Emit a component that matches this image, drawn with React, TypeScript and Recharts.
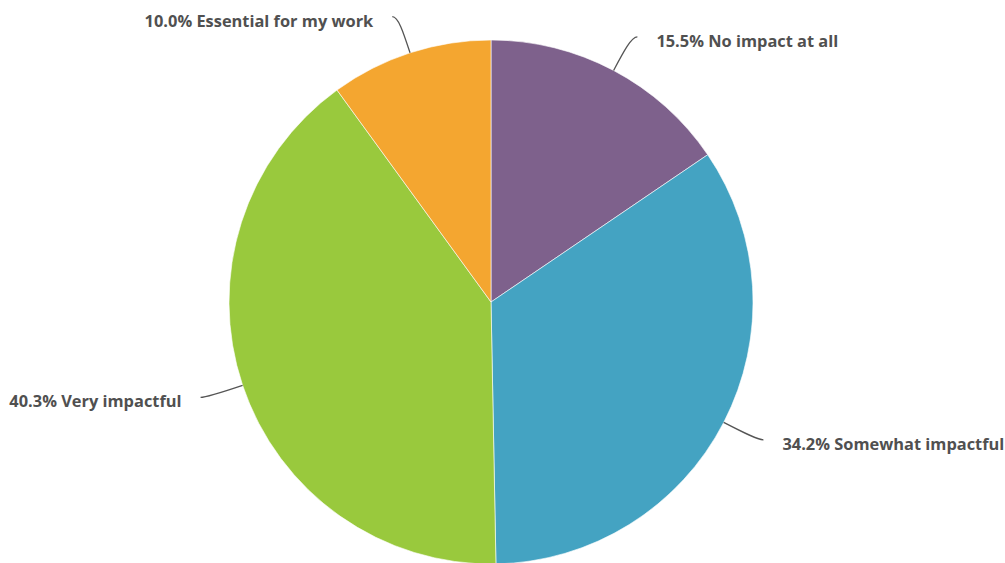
import React from "react";
import { PieChart, Pie, Cell } from "recharts";

const categories = [
  "No impact at all",
  "Somewhat impactful",
  "Very impactful",
  "Essential for my work",
];
const shares = [15.5, 34.2, 40.3, 10.0];
const sliceColors = ["#7E618C", "#44A3C2", "#99C93D", "#F4A630"];

const data = categories.map((name, i) => ({ name, value: shares[i] }));

const RADIAN = Math.PI / 180;

function renderLabel(props: any) {
  const { cx, cy, midAngle, outerRadius, index } = props;
  const cos = Math.cos(-midAngle * RADIAN);
  const sin = Math.sin(-midAngle * RADIAN);
  const sign = cos >= 0 ? 1 : -1;
  const sx = cx + outerRadius * cos;
  const sy = cy + outerRadius * sin;
  // elbow point a little beyond the rim, then a short horizontal tail
  const mx = cx + (outerRadius + 38) * cos;
  const my = cy + (outerRadius + 38) * sin;
  const ex = mx + sign * 6;
  const ey = my;
  const c1x = cx + (outerRadius + 22) * cos;
  const c1y = cy + (outerRadius + 22) * sin;
  const tx = ex + sign * 19;
  const ty = ey + 3.5;
  return (
    <g key={`lbl-${index}`}>
      <path
        d={`M${sx},${sy} C${c1x},${c1y} ${mx},${my} ${ex},${ey}`}
        stroke="#555555"
        strokeWidth={1.3}
        fill="none"
      />
      <text
        x={tx}
        y={ty}
        textAnchor={sign > 0 ? "start" : "end"}
        dominantBaseline="central"
        fill="#505050"
        fontSize={16.4}
        fontWeight={700}
        fontFamily="'Open Sans', 'Noto Sans', sans-serif"
      >
        {`${shares[index].toFixed(1)}% ${categories[index]}`}
      </text>
    </g>
  );
}

export default function App() {
  return (
    <div style={{ position: "absolute", left: 0, top: 0, width: 1005, height: 563, background: "#fff" }}>
      <PieChart width={1005} height={563} margin={{ top: 0, right: 0, bottom: 0, left: 0 }}>
        <Pie
          data={data}
          dataKey="value"
          nameKey="name"
          cx={491}
          cy={302}
          outerRadius={262}
          startAngle={90}
          endAngle={-270}
          stroke="#ffffff"
          strokeWidth={0.6}
          label={renderLabel}
          labelLine={false}
          isAnimationActive={false}
        >
          {data.map((_, i) => (
            <Cell key={i} fill={sliceColors[i]} />
          ))}
        </Pie>
      </PieChart>
    </div>
  );
}
